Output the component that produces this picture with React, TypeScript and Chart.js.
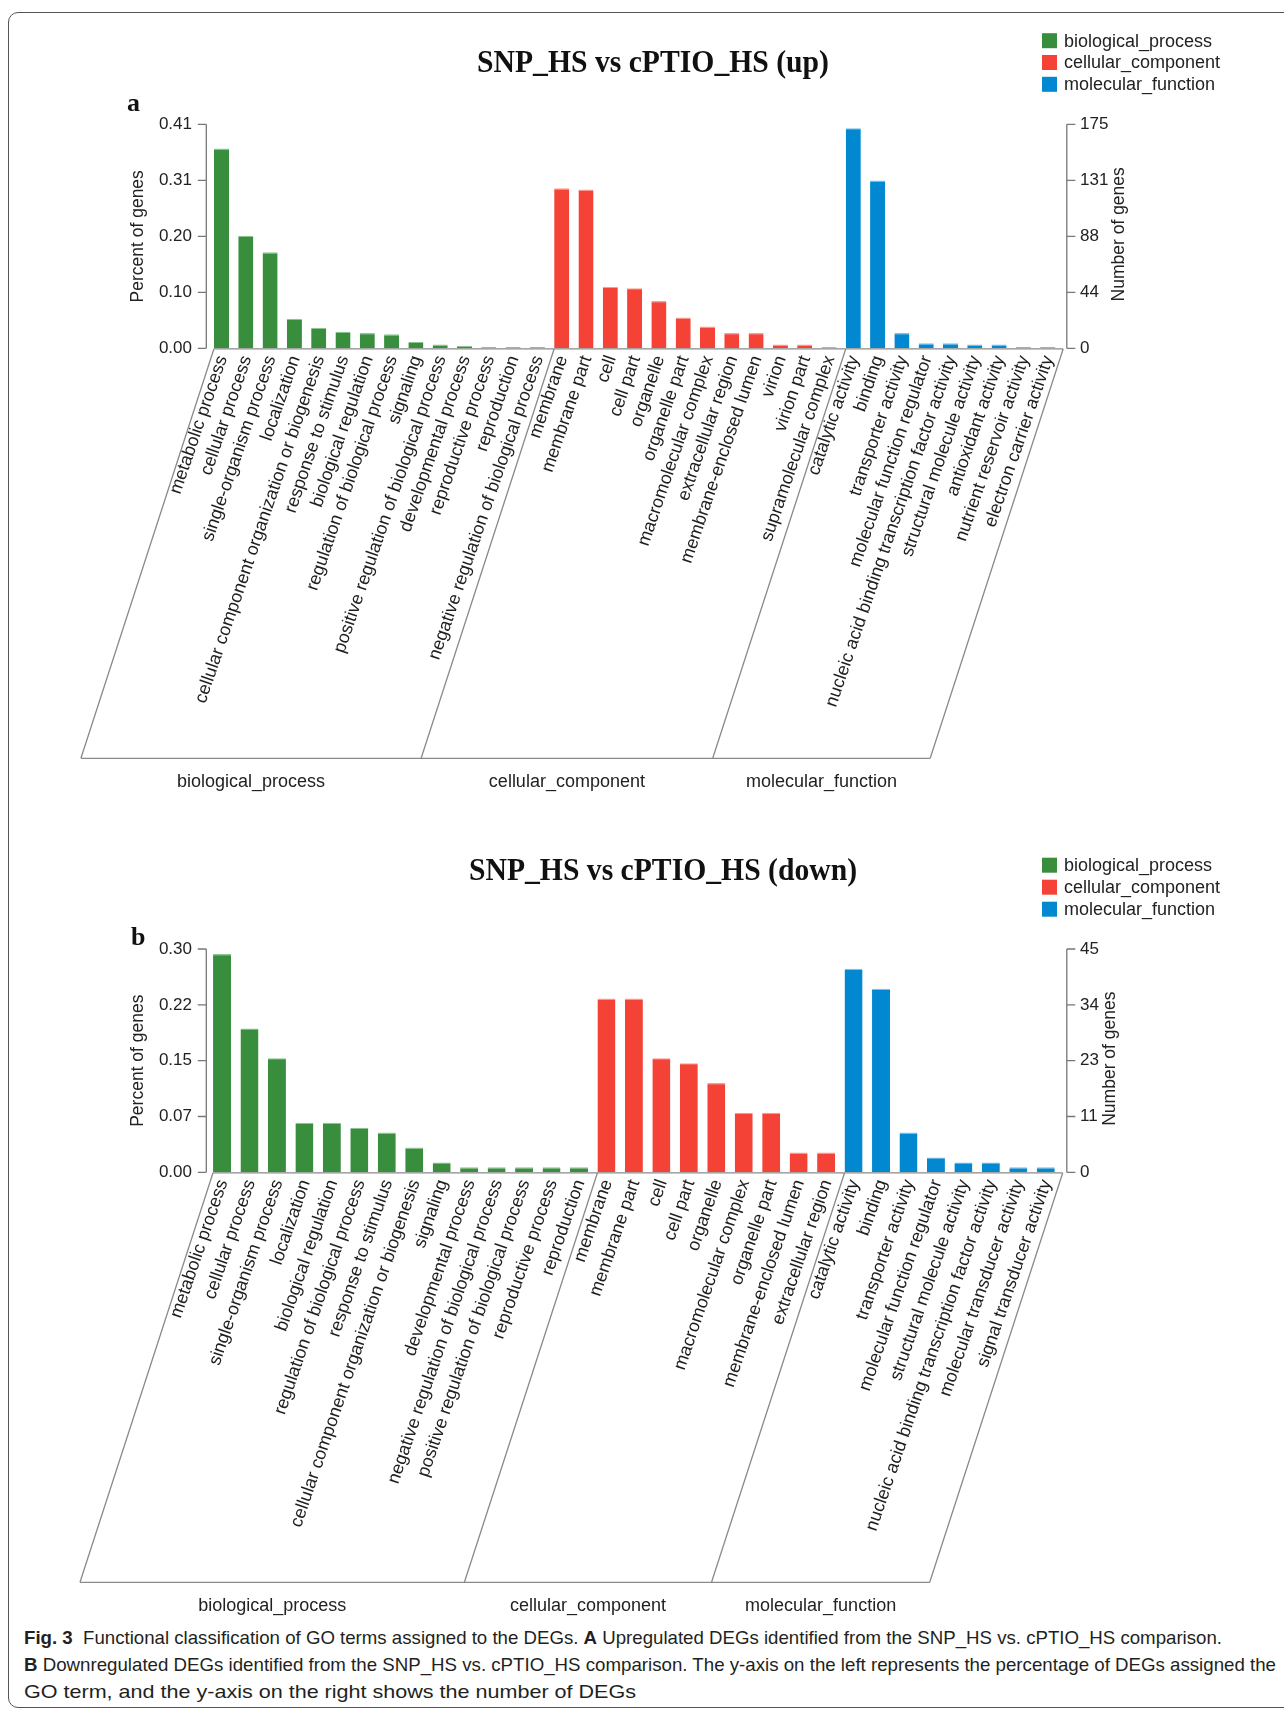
import React, { useEffect, useLayoutEffect, useRef } from "react";
import { Chart, registerables } from "chart.js";

Chart.register(...registerables);

// ---------- shared ----------
const groupNames = ["biological_process", "cellular_component", "molecular_function"];
const groupColors = ["#388E3C", "#F44336", "#0288D1"];
const groupEdgeColors = ["#8cc58f", "#f99a92", "#7cc0e6"];

// ---------- panel a (up) ----------
const titleA = "SNP_HS vs cPTIO_HS (up)";
const bioTermsA = [
  "metabolic process",
  "cellular process",
  "single-organism process",
  "localization",
  "cellular component organization or biogenesis",
  "response to stimulus",
  "biological regulation",
  "regulation of biological process",
  "signaling",
  "positive regulation of biological process",
  "developmental process",
  "reproductive process",
  "reproduction",
  "negative regulation of biological process",
];
const ccTermsA = [
  "membrane",
  "membrane part",
  "cell",
  "cell part",
  "organelle",
  "organelle part",
  "macromolecular complex",
  "extracellular region",
  "membrane-enclosed lumen",
  "virion",
  "virion part",
  "supramolecular complex",
];
const mfTermsA = [
  "catalytic activity",
  "binding",
  "transporter activity",
  "molecular function regulator",
  "nucleic acid binding transcription factor activity",
  "structural molecule activity",
  "antioxidant activity",
  "nutrient reservoir activity",
  "electron carrier activity",
];
const bioCountsA = [156, 88, 75, 23, 16, 13, 12, 11, 5, 3, 2, 1, 1, 1];
const ccCountsA = [125, 124, 48, 47, 37, 24, 17, 12, 12, 3, 3, 1];
const mfCountsA = [172, 131, 12, 4, 4, 3, 3, 1, 1];
const pctTicksA = ["0.00", "0.10", "0.20", "0.31", "0.41"];
const countTicksA = ["0", "44", "88", "131", "175"];
const pctMaxA = 0.41;
const countMaxA = 175;

// ---------- panel b (down) ----------
const titleB = "SNP_HS vs cPTIO_HS (down)";
const bioTermsB = [
  "metabolic process",
  "cellular process",
  "single-organism process",
  "localization",
  "biological regulation",
  "regulation of biological process",
  "response to stimulus",
  "cellular component organization or biogenesis",
  "signaling",
  "developmental process",
  "negative regulation of biological process",
  "positive regulation of biological process",
  "reproductive process",
  "reproduction",
];
const ccTermsB = [
  "membrane",
  "membrane part",
  "cell",
  "cell part",
  "organelle",
  "macromolecular complex",
  "organelle part",
  "membrane-enclosed lumen",
  "extracellular region",
];
const mfTermsB = [
  "catalytic activity",
  "binding",
  "transporter activity",
  "molecular function regulator",
  "structural molecule activity",
  "nucleic acid binding transcription factor activity",
  "molecular transducer activity",
  "signal transducer activity",
];
const bioCountsB = [44, 29, 23, 10, 10, 9, 8, 5, 2, 1, 1, 1, 1, 1];
const ccCountsB = [35, 35, 23, 22, 18, 12, 12, 4, 4];
const mfCountsB = [41, 37, 8, 3, 2, 2, 1, 1];
const pctTicksB = ["0.00", "0.07", "0.15", "0.22", "0.30"];
const countTicksB = ["0", "11", "23", "34", "45"];
const pctMaxB = 0.3;
const countMaxB = 45;

// ---------- caption ----------
const captionLines = [
  [
    { t: "Fig. 3", b: true },
    { t: "  Functional classification of GO terms assigned to the DEGs. ", b: false },
    { t: "A", b: true },
    { t: " Upregulated DEGs identified from the SNP_HS vs. cPTIO_HS comparison.", b: false },
  ],
  [
    { t: "B", b: true },
    {
      t: " Downregulated DEGs identified from the SNP_HS vs. cPTIO_HS comparison. The y-axis on the left represents the percentage of DEGs assigned the",
      b: false,
    },
  ],
  [{ t: "GO term, and the y-axis on the right shows the number of DEGs", b: false }],
];
const captionWidths = [1198, 1252, 612];
const captionTops = [1623.5, 1651, 1678];

const SANS = '"Liberation Sans", Arial, Helvetica, sans-serif';
const SERIF = '"Liberation Serif", "Times New Roman", serif';

type Spec = {
  title: string;
  titleX: number;
  titleY: number;
  titleW: number;
  letter: string;
  letterX: number;
  letterY: number;
  legendY: number;
  legendStep: number;
  rightTitle: string;
  rightTitleX: number;
  terms: string[][];
  counts: number[][];
  pctTicks: string[];
  countTicks: string[];
  pctMax: number;
  countMax: number;
  barPct: number;
  height: number;
  pad: { left: number; right: number; top: number; bottom: number };
  leftW: number;
  rightW: number;
  leftTickPad: number;
  rightTickPad: number;
};

const specA: Spec = {
  title: titleA,
  titleX: 653,
  titleY: 71.7,
  titleW: 352,
  letter: "a",
  letterX: 127,
  letterY: 110.5,
  legendY: 40.7,
  legendStep: 21.8,
  rightTitle: "Number of genes",
  rightTitleX: 1119,
  terms: [bioTermsA, ccTermsA, mfTermsA],
  counts: [bioCountsA, ccCountsA, mfCountsA],
  pctTicks: pctTicksA,
  countTicks: countTicksA,
  pctMax: pctMaxA,
  countMax: countMaxA,
  barPct: 0.62,
  height: 800,
  pad: { left: 124, right: 149.5, top: 124.3, bottom: 451.7 },
  leftW: 85.35,
  rightW: 74.65,
  leftTickPad: 17.35,
  rightTickPad: 20.15,
};

const specB: Spec = {
  title: titleB,
  titleX: 663,
  titleY: 80,
  titleW: 388,
  letter: "b",
  letterX: 131,
  letterY: 145,
  legendY: 65.2,
  legendStep: 22,
  rightTitle: "Number of genes",
  rightTitleX: 1110,
  terms: [bioTermsB, ccTermsB, mfTermsB],
  counts: [bioCountsB, ccCountsB, mfCountsB],
  pctTicks: pctTicksB,
  countTicks: countTicksB,
  pctMax: pctMaxB,
  countMax: countMaxB,
  barPct: 0.655,
  height: 820,
  pad: { left: 124, right: 160, top: 149, bottom: 447.7 },
  leftW: 84.3,
  rightW: 64.5,
  leftTickPad: 16.3,
  rightTickPad: 20.5,
};

const AXIS_L = 206.3;
const AXIS_R = 1066.8;
const LABEL_ANGLE = (71 * Math.PI) / 180;
const FRAME_H = 409.5;
const FRAME_SLANT = FRAME_H / Math.tan((72 * Math.PI) / 180);

function makeDecor(spec: Spec) {
  return {
    id: "decor",
    afterDraw(chart: any) {
      const ctx: CanvasRenderingContext2D = chart.ctx;
      const xs = chart.scales.x;
      const ys = chart.scales.count;
      const ca = chart.chartArea;
      const labels: string[] = chart.data.labels;
      const n = labels.length;
      const barW = ((ca.right - ca.left) / n) * spec.barPct;
      ctx.save();

      // title
      ctx.fillStyle = "#111";
      ctx.font = `bold 32px ${SERIF}`;
      ctx.textAlign = "center";
      ctx.textBaseline = "alphabetic";
      ctx.fillText(spec.title, spec.titleX, spec.titleY, spec.titleW);

      // panel letter
      ctx.font = `bold 26px ${SERIF}`;
      ctx.textAlign = "left";
      ctx.fillText(spec.letter, spec.letterX, spec.letterY);

      // legend
      ctx.font = `18px ${SANS}`;
      ctx.textBaseline = "middle";
      chart.data.datasets.forEach((ds: any, i: number) => {
        const cy = spec.legendY + i * spec.legendStep;
        ctx.fillStyle = ds.backgroundColor;
        ctx.fillRect(1042, cy - 7.5, 15, 15);
        ctx.fillStyle = "#222";
        ctx.fillText(ds.label, 1064, cy + 1);
      });

      // right axis title (reads bottom-to-top, like the left one)
      ctx.save();
      ctx.font = `17.5px ${SANS}`;
      ctx.fillStyle = "#222";
      ctx.textAlign = "center";
      ctx.textBaseline = "middle";
      ctx.translate(spec.rightTitleX, (ca.top + ca.bottom) / 2 - 2);
      ctx.rotate(-Math.PI / 2);
      ctx.fillText(spec.rightTitle, 0, 0);
      ctx.restore();

      // axis lines + tick marks
      ctx.strokeStyle = "#777";
      ctx.lineWidth = 1.3;
      const yTop = ys.getPixelForValue(spec.countMax);
      const yBot = ys.getPixelForValue(0);
      ctx.beginPath();
      ctx.moveTo(AXIS_L, yTop);
      ctx.lineTo(AXIS_L, yBot);
      ctx.moveTo(AXIS_R, yTop);
      ctx.lineTo(AXIS_R, yBot);
      ys.ticks.forEach((t: any) => {
        const y = ys.getPixelForValue(t.value);
        ctx.moveTo(AXIS_L - 8.5, y);
        ctx.lineTo(AXIS_L, y);
        ctx.moveTo(AXIS_R, y);
        ctx.lineTo(AXIS_R + 8.5, y);
      });
      ctx.stroke();

      // rotated category labels
      ctx.fillStyle = "#1e1e1e";
      ctx.font = `18px ${SANS}`;
      ctx.textAlign = "right";
      ctx.textBaseline = "middle";
      for (let i = 0; i < n; i++) {
        const cx = xs.getPixelForValue(i);
        ctx.save();
        ctx.translate(cx + 1, ca.bottom + 8);
        ctx.rotate(-LABEL_ANGLE);
        ctx.fillText(labels[i], 0, 0);
        ctx.restore();
      }

      // parallelogram frame
      const starts: number[] = [];
      let idx = 0;
      spec.terms.forEach((g) => {
        starts.push(xs.getPixelForValue(idx) - barW / 2);
        idx += g.length;
      });
      const rightX = xs.getPixelForValue(n - 1) + barW / 2 + 8;
      const tops = [...starts, rightX];
      const topY = ca.bottom + 0.5;
      const botY = topY + FRAME_H;
      ctx.strokeStyle = "#8a8a8a";
      ctx.lineWidth = 1.3;
      ctx.beginPath();
      ctx.moveTo(tops[0], topY);
      ctx.lineTo(rightX, topY);
      ctx.moveTo(tops[0] - FRAME_SLANT, botY);
      ctx.lineTo(rightX - FRAME_SLANT, botY);
      tops.forEach((x) => {
        ctx.moveTo(x, topY);
        ctx.lineTo(x - FRAME_SLANT, botY);
      });
      ctx.stroke();

      // group labels
      ctx.fillStyle = "#222";
      ctx.font = `18px ${SANS}`;
      ctx.textAlign = "center";
      ctx.textBaseline = "middle";
      groupNames.forEach((g, i) => {
        const cx = (tops[i] + tops[i + 1]) / 2 - FRAME_SLANT;
        ctx.fillText(g, cx, botY + 24);
      });

      ctx.restore();
    },
  };
}

function GoChart({ spec, top }: { spec: Spec; top: number }) {
  const ref = useRef<HTMLCanvasElement | null>(null);
  useEffect(() => {
    if (!ref.current) return;
    const labels = ([] as string[]).concat(...spec.terms);
    const n = labels.length;
    const datasets = spec.counts.map((vals, gi) => {
      const offset = spec.terms.slice(0, gi).reduce((s, g) => s + g.length, 0);
      const data: (number | null)[] = new Array(n).fill(null);
      vals.forEach((v, k) => {
        data[offset + k] = v;
      });
      return {
        label: groupNames[gi],
        data,
        backgroundColor: groupColors[gi],
        borderColor: groupEdgeColors[gi],
        borderWidth: { top: 1.2, left: 0, right: 0, bottom: 0 },
        yAxisID: "count",
        grouped: false,
        barPercentage: spec.barPct,
        categoryPercentage: 1,
      };
    });
    const tickFont = { family: SANS, size: 17 };
    const titleFont = { family: SANS, size: 17.5 };
    const chart = new Chart(ref.current, {
      type: "bar",
      data: { labels, datasets: datasets as any },
      options: {
        responsive: false,
        animation: false,
        devicePixelRatio: 1,
        layout: { padding: spec.pad },
        plugins: {
          legend: { display: false },
          title: { display: false },
          tooltip: { enabled: false },
        },
        scales: {
          x: { type: "category", display: false, offset: true, grid: { display: false } },
          pct: {
            type: "linear",
            position: "left",
            min: 0,
            max: spec.pctMax,
            grid: { display: false, drawTicks: false },
            border: { display: false },
            ticks: {
              autoSkip: false,
              padding: spec.leftTickPad,
              color: "#222",
              font: tickFont,
              callback: (_v: any, i: number) => spec.pctTicks[i],
            },
            title: { display: true, text: "Percent of genes", color: "#222", font: titleFont },
            afterBuildTicks: (s: any) => {
              s.ticks = spec.pctTicks.map((_, i) => ({ value: (spec.pctMax * i) / (spec.pctTicks.length - 1) }));
            },
            afterFit: (s: any) => {
              s.width = spec.leftW;
            },
          },
          count: {
            type: "linear",
            position: "right",
            min: 0,
            max: spec.countMax,
            grid: { display: false, drawTicks: false },
            border: { display: false },
            ticks: {
              autoSkip: false,
              padding: spec.rightTickPad,
              color: "#222",
              font: tickFont,
              callback: (_v: any, i: number) => spec.countTicks[i],
            },
            title: { display: false, text: spec.rightTitle },
            afterBuildTicks: (s: any) => {
              s.ticks = spec.countTicks.map((_, i) => ({ value: (spec.countMax * i) / (spec.countTicks.length - 1) }));
            },
            afterFit: (s: any) => {
              s.width = spec.rightW;
            },
          },
        } as any,
      },
      plugins: [makeDecor(spec)],
    });
    return () => chart.destroy();
  }, [spec]);
  return (
    <canvas
      ref={ref}
      width={1284}
      height={spec.height}
      style={{ position: "absolute", left: 0, top, width: 1284, height: spec.height }}
    />
  );
}

function Caption() {
  const refs = useRef<(HTMLSpanElement | null)[]>([]);
  useLayoutEffect(() => {
    captionLines.forEach((_, i) => {
      const el = refs.current[i];
      if (!el) return;
      el.style.transform = "none";
      const w = el.getBoundingClientRect().width;
      if (w > 0) el.style.transform = `scaleX(${captionWidths[i] / w})`;
    });
  }, []);
  return (
    <>
      {captionLines.map((line, i) => (
        <span
          key={i}
          ref={(el) => {
            refs.current[i] = el;
          }}
          style={{
            position: "absolute",
            left: 24,
            top: captionTops[i],
            display: "inline-block",
            whiteSpace: "pre",
            fontFamily: SANS,
            fontSize: 18.5,
            lineHeight: "27px",
            color: "#231f20",
            transformOrigin: "left center",
          }}
        >
          {line.map((seg, k) => (
            <span key={k} style={{ fontWeight: seg.b ? 700 : 400 }}>
              {seg.t}
            </span>
          ))}
        </span>
      ))}
    </>
  );
}

export default function App() {
  return (
    <div
      style={{
        position: "absolute",
        left: 0,
        top: 0,
        width: 1284,
        height: 1710,
        overflow: "hidden",
        background: "#fff",
      }}
    >
      <div
        style={{
          position: "absolute",
          left: 7.5,
          top: 11.5,
          width: 1400,
          height: 1696.5,
          border: "1px solid #555",
          borderRadius: 10,
          boxSizing: "border-box",
        }}
      />
      <GoChart spec={specA} top={0} />
      <GoChart spec={specB} top={800} />
      <Caption />
    </div>
  );
}
